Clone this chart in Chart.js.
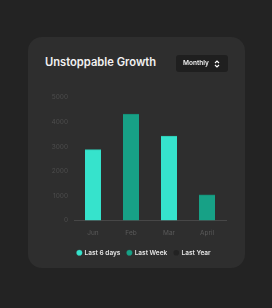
<!DOCTYPE html>
<html>
<head>
<meta charset="utf-8">
<script src="https://cdn.jsdelivr.net/npm/chart.js@4"></script>
<style>
  html, body { margin: 0; padding: 0; }
  body { width: 272px; height: 308px; background: #232323; position: relative; overflow: hidden; font-family: Inter, "Noto Sans", sans-serif; }
  .card { position: absolute; left: 28px; top: 37px; width: 217px; height: 231px; background: #2e2e2e; border-radius: 14px; }
  .title { position: absolute; left: 45px; top: 57px; color: #f2f2f2; font-size: 11.2px; line-height: 1; font-weight: 600; }
  .select { position: absolute; left: 176px; top: 55px; width: 52px; height: 17px; background: #1f1f1f; border-radius: 3px; color: #f4f4f4; font-size: 6.5px; font-weight: 600; line-height: 1; }
  .select span { position: absolute; left: 7px; top: 5px; opacity: 0.99; will-change: transform; }
  .select svg { position: absolute; left: 38px; top: 5px; }
  #chart { position: absolute; left: 0; top: 0; }
</style>
</head>
<body>
<div class="card"></div>
<div class="title">Unstoppable Growth</div>
<div class="select"><span>Monthly</span>
  <svg width="6" height="8" viewBox="0 0 6 8"><path d="M1 3 L3 1 L5 3 M1 5 L3 7 L5 5" stroke="#fff" stroke-width="1.1" fill="none"/></svg>
</div>
<canvas id="chart" width="272" height="308"></canvas>
<script>
const months = ['Jun', 'Feb', 'Mar', 'April'];
const last6Days = [2880, null, 3430, null];
const lastWeek = [null, 4330, null, 1040];
const lastYear = [null, null, null, null];
const yTicks = [0, 1000, 2000, 3000, 4000, 5000];

function renderChart() {
  new Chart(document.getElementById('chart').getContext('2d'), {
    type: 'bar',
    data: {
      labels: months,
      datasets: [
        { label: 'Last 6 days', data: last6Days, backgroundColor: '#36e3cc', borderColor: '#2fc7b2', borderWidth: { top: 1 } },
        { label: 'Last Week', data: lastWeek, backgroundColor: '#17a186', borderColor: '#148c75', borderWidth: { top: 1 } },
        { label: 'Last Year', data: lastYear, backgroundColor: '#222222' }
      ]
    },
    options: {
      responsive: false,
      animation: false,
      layout: { padding: { left: 16, right: 0, top: 97.5, bottom: 42 } },
      datasets: { bar: { grouped: false, barThickness: 16 } },
      plugins: {
        tooltip: { enabled: false },
        legend: {
          position: 'bottom',
          labels: {
            usePointStyle: true,
            pointStyle: 'circle',
            boxWidth: 4,
            boxHeight: 4,
            padding: 7,
            color: '#e6e6e6',
            font: { family: 'Inter', size: 6.5, weight: '600' }
          }
        }
      },
      scales: {
        x: {
          grid: { display: false, drawTicks: false },
          border: { display: true, color: '#474747', width: 1 },
          ticks: { color: '#5a5a5a', padding: 9, font: { family: 'Inter', size: 6.5 } },
          afterFit: s => { s.height = 22; }
        },
        y: {
          min: 0,
          max: 5000,
          afterBuildTicks: s => { s.ticks = yTicks.map(v => ({ value: v })); },
          afterFit: s => { s.width = 58; },
          grid: { display: false, drawTicks: false },
          border: { display: false },
          ticks: { color: '#4d4d4d', padding: 6, font: { family: 'Inter', size: 6.5 }, callback: v => String(v) }
        },
        yRight: {
          position: 'right',
          afterFit: s => { s.width = 46; },
          grid: { display: false, drawTicks: false },
          border: { display: false },
          ticks: { display: false }
        }
      }
    }
  });
}

renderChart();
</script>
</body>
</html>
